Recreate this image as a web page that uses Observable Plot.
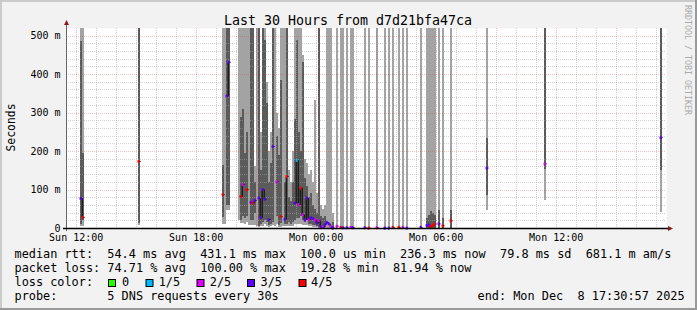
<!DOCTYPE html>
<html><head><meta charset="utf-8">
<script src="https://cdn.jsdelivr.net/npm/d3@7"></script>
<script src="https://cdn.jsdelivr.net/npm/@observablehq/plot@0.6"></script>
<style>html,body{margin:0;padding:0;background:#f2f2f2;}svg{display:block;}</style>
</head><body><div id="chart"></div>
<script>
// ---- tick labels ----
const xTicks = [12, 18, 24, 30, 36];              // hours since Sun 00:00
const xTickLabels = ["Sun 12:00", "Sun 18:00", "Mon 00:00", "Mon 06:00", "Mon 12:00"];
const yTicks = [0, 100, 200, 300, 400, 500];       // ms
const yTickLabels = ["0", "100 m", "200 m", "300 m", "400 m", "500 m"];
const xDomain = [11.516, 41.516];                  // Sun 11:30:57 .. Mon 17:30:57
const yMax = 519.5;
const step = 0.1;                                  // 6-minute consolidation
const lossLabels = ["0", "1/5", "2/5", "3/5", "4/5"];
const lossColors = ["#26ff00", "#00b8ff", "#dd00ff", "#5e00ff", "#ff0000"];

// ---- smoke columns (ms; 520 = off the top) ----
const hours = [12.2,12.3,15.1,
  19.3,19.4,19.5,19.6,20.1,20.2,20.3,20.4,20.5,20.6,20.7,20.8,20.9,21.0,21.1,21.2,21.3,21.4,21.5,21.6,21.7,21.8,21.9,
  22.0,22.1,22.2,22.3,22.4,22.5,22.6,22.7,22.8,22.9,23.0,23.1,23.2,23.3,23.4,23.5,23.6,23.7,23.8,23.9,24.0,24.1,
  24.2,24.3,24.4,24.5,24.6,24.7,24.8,
  25.0,25.2,25.3,25.5,25.7,25.8,26.4,26.6,27.0,27.4,27.6,27.8,28.1,28.3,28.5,29.2,
  29.5,29.6,29.7,29.8,29.9,30.1,30.3,30.7,
  32.5,35.4,41.2];
const lightLo = [5,5,8,
  10,10,48,48,20,12,12,10,15,8,8,8,8,5,3,5,5,10,5,3,5,8,5,
  10,3,3,5,5,5,5,5,5,10,10,10,10,8,8,8,5,5,3,3,2,1,
  0,0,0,0,0,0,0,
  0,0,0,0,0,0,0,0,0,0,0,0,0,0,0,0,
  0,0,0,0,0,0,0,0,
  47,73,42];
const lightHi = [520,520,520,
  520,520,520,520,520,520,520,520,520,520,520,520,160,520,520,250,520,520,380,200,250,520,520,
  300,260,520,520,520,520,150,120,200,520,520,520,520,450,180,170,140,150,120,332,90,520,
  60,50,60,520,520,520,40,
  520,520,520,520,520,520,520,520,520,520,520,520,520,520,520,520,
  520,520,520,520,520,520,520,520,
  520,520,520];
const darkLo = [10,21,14,
  29,null,60,60,null,21,30,25,30,null,20,20,40,null,5,10,15,20,15,8,10,15,null,
  30,8,12,null,10,10,15,10,15,20,25,25,30,20,15,20,10,10,8,8,5,3,
  2,2,3,null,null,null,1,
  null,null,null,null,null,null,null,null,null,null,null,null,null,null,null,null,
  0,0,0,0,0,0,0,0,
  86,153,151];
const darkHi = [486,195,520,
  164,null,520,520,null,289,310,194,250,null,520,520,120,null,520,150,520,488,325,120,170,520,null,
  240,190,384,null,120,520,80,70,120,283,488,250,200,431,130,110,80,90,60,50,40,520,
  30,25,30,null,null,null,15,
  null,null,null,null,null,null,null,null,null,null,null,null,null,null,null,null,
  27,35,45,40,35,47,27,47,
  233,520,520];
const median = [78,29,174,
  88,null,344,432,null,83,114,null,101,null,68,66,73,null,79,28,101,76,null,23,null,213,null,
  121,null,31,null,24,135,null,null,null,66,177,62,105,36,23,79,22,28,26,22,14,21,
  4,3,10,16,12,5,1,
  6,3,2,2,3,2,2,1,2,1,1,3,3,3,1,3,
  8,9,5,8,12,12,7,20,
  157,168,236];
const loss = [3,4,4,
  4,null,3,3,null,4,2,null,4,null,3,4,3,null,3,3,3,3,null,3,null,3,null,
  2,null,4,null,3,4,null,null,null,3,1,2,4,2,3,3,2,3,3,2,3,2,
  3,2,3,3,3,2,3,
  2,4,3,3,2,3,3,4,2,3,3,4,4,2,3,3,
  3,3,4,4,4,3,4,4,
  3,2,3];

// ---- legend values ----
const rttLine = "median rtt:  54.4 ms avg  431.1 ms max  100.0 us min  236.3 ms now  79.8 ms sd  681.1 m am/s";
const lossLine = "packet loss: 74.71 % avg  100.00 % max  19.28 % min  81.94 % now";
const probeLine = "probe:       5 DNS requests every 30s";
const endLine = "end: Mon Dec  8 17:30:57 2025";
const titleText = "Last 30 Hours from d7d21bfa47ca";

const cols = hours.map((t, i) => ({
  t, t2: t + step, L0: lightLo[i], L1: lightHi[i], D0: darkLo[i], D1: darkHi[i],
  med: median[i], loss: loss[i]
}));

// step line through medians of adjacent columns
const medPts = [];
let seg = 0, prev = null;
for (const c of cols) {
  if (c.med == null) { prev = null; continue; }
  if (!prev || Math.abs(c.t - prev.t - step) > 1e-6) seg++;
  medPts.push({t: c.t, v: c.med, seg}, {t: c.t2, v: c.med, seg});
  prev = c;
}

const minorX = d3.range(12, 42).filter(h => h % 3 !== 0);
const majorX = d3.range(12, 42, 3);
const minorY = d3.range(20, 520, 20).filter(v => v % 100 !== 0);
const majorY = [100, 200, 300, 400, 500];

const mono = "'DejaVu Sans Mono', monospace";
const dash = "1,1";

const chart = Plot.plot({
  width: 697, height: 310,
  marginLeft: 66, marginRight: 31, marginTop: 28, marginBottom: 82,
  style: {fontFamily: mono, fontSize: "10px", background: "#f2f2f2", color: "#000", overflow: "visible"},
  x: {type: "linear", domain: xDomain},
  y: {domain: [0, yMax]},
  color: {type: "identity"},
  marks: [
    Plot.frame({fill: "#fff", stroke: null}),
    Plot.rect(cols.filter(d => d.L0 != null), {x1: "t", x2: "t2", y1: "L0", y2: "L1", fill: "#a3a3a3", clip: true, shapeRendering: "crispEdges"}),
    Plot.rect(cols.filter(d => d.D0 != null), {x1: "t", x2: "t2", y1: "D0", y2: "D1", fill: "#5b5b5b", clip: true, shapeRendering: "crispEdges"}),
    Plot.ruleX(minorX, {stroke: "#a8a8a8", strokeOpacity: 0.5, strokeDasharray: dash, shapeRendering: "crispEdges"}),
    Plot.ruleY(minorY, {stroke: "#a8a8a8", strokeOpacity: 0.5, strokeDasharray: dash, shapeRendering: "crispEdges"}),
    Plot.ruleX(majorX, {stroke: "#d04848", strokeOpacity: 0.32, strokeDasharray: dash, shapeRendering: "crispEdges"}),
    Plot.ruleY(majorY, {stroke: "#d04848", strokeOpacity: 0.32, strokeDasharray: dash, shapeRendering: "crispEdges"}),
    Plot.line(medPts, {x: "t", y: "v", z: "seg", stroke: "#000", strokeWidth: 1, clip: true}),
    Plot.ruleY(cols.filter(d => d.med != null), {y: "med", x1: "t", x2: "t2", stroke: d => lossColors[d.loss], strokeWidth: 3}),
    Plot.axisX({ticks: xTicks, tickFormat: (d, i) => xTickLabels[i], tickSize: 0, tickPadding: 5, label: null, fontSize: 10}),
    Plot.axisY({ticks: yTicks, tickFormat: (d, i) => yTickLabels[i], tickSize: 0, tickPadding: 6, label: null, fontSize: 10})
  ]
});
document.getElementById("chart").appendChild(chart);

// ---- decorations around the plot ----
const svg = d3.select(chart);
const xs = chart.scale("x"), ys = chart.scale("y");
const x0 = xs.apply(xDomain[0]), x1 = xs.apply(xDomain[1]);
const y0 = ys.apply(0), yTop = ys.apply(yMax);

// bevel border
svg.append("rect").attr("x", 0).attr("y", 0).attr("width", 697).attr("height", 2).attr("fill", "#cbcbcb");
svg.append("rect").attr("x", 0).attr("y", 0).attr("width", 2).attr("height", 310).attr("fill", "#cbcbcb");
svg.append("rect").attr("x", 695).attr("y", 0).attr("width", 2).attr("height", 310).attr("fill", "#999");
svg.append("rect").attr("x", 0).attr("y", 308).attr("width", 697).attr("height", 2).attr("fill", "#999");

// axes with arrows
svg.append("line").attr("x1", x0 + 0.5).attr("x2", x0 + 0.5).attr("y1", y0 + 3).attr("y2", yTop - 6)
  .attr("stroke", "#666").attr("stroke-width", 1);
svg.append("line").attr("x1", x0 - 3).attr("x2", x1 + 2).attr("y1", y0 + 0.5).attr("y2", y0 + 0.5)
  .attr("stroke", "#000").attr("stroke-width", 1.6);
svg.append("path").attr("d", `M${x0 - 2},${yTop - 3}L${x0 + 3},${yTop - 3}L${x0 + 0.5},${yTop - 8}Z`).attr("fill", "#8b1a1a");
svg.append("path").attr("d", `M${x1 + 2},${y0 - 2}L${x1 + 2},${y0 + 3}L${x1 + 7},${y0 + 0.5}Z`).attr("fill", "#8b1a1a");

function addText(x, y, s, size, opts = {}) {
  const t = svg.append("text").attr("font-family", mono).attr("font-size", size)
    .attr("fill", opts.fill || "#000").attr("text-anchor", opts.anchor || "start")
    .attr("xml:space", "preserve").style("white-space", "pre").text(s);
  if (opts.transform) t.attr("transform", opts.transform); else t.attr("x", x).attr("y", y);
  return t;
}
// title
addText(348, 24.5, titleText, 13.3, {anchor: "middle"});
// y label
addText(0, 0, "Seconds", 11.4, {anchor: "middle", transform: "translate(15,127.5) rotate(-90)"});
// watermark
addText(0, 0, "RRDTOOL / TOBI OETIKER", 8.3, {fill: "#aaa", transform: "translate(685,5) rotate(90)"});

// legend
const lf = 11.875;
addText(14.5, 257.8, rttLine, lf);
addText(14.5, 271.8, lossLine, lf);
addText(14.5, 285.8, "loss color:", lf);
addText(14.5, 299.6, probeLine, lf);
addText(477.5, 299.6, endLine, lf);
const boxX = [108.5, 146, 197, 247.5, 299];
const labX = [122, 158.7, 209.8, 260.5, 311];
lossLabels.forEach((lab, i) => {
  svg.append("rect").attr("x", boxX[i]).attr("y", 279.5).attr("width", 7).attr("height", 7)
    .attr("fill", lossColors[i]).attr("stroke", "#000").attr("stroke-width", 1);
  addText(labX[i], 285.8, lab, lf);
});
</script>
</body></html>
